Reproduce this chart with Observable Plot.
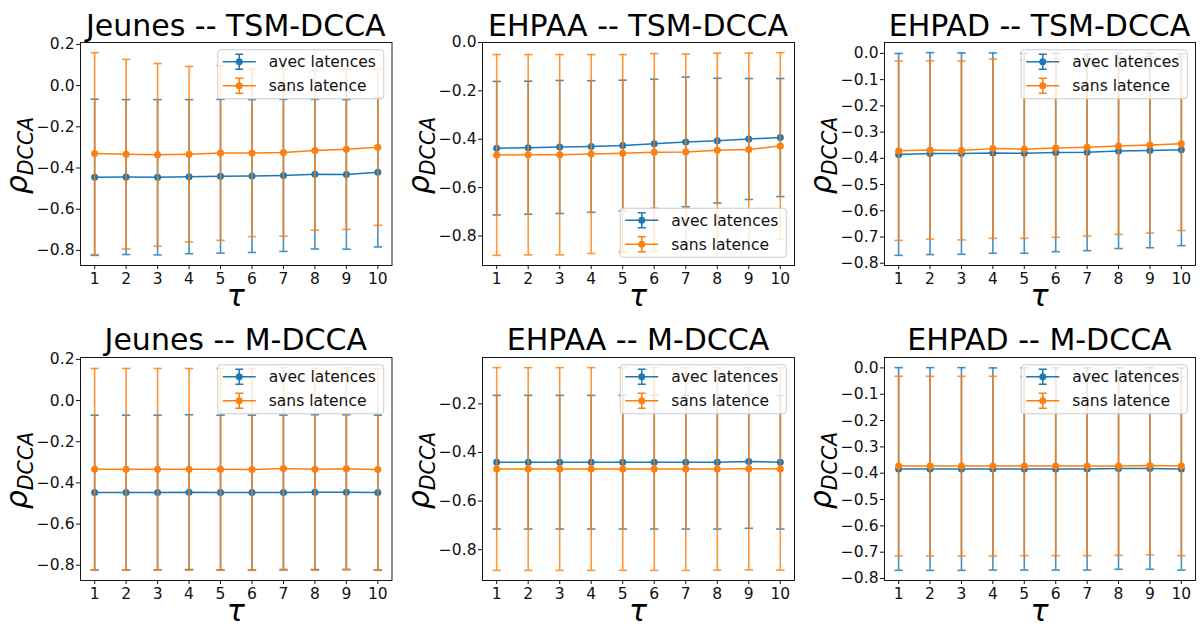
<!DOCTYPE html>
<html><head><meta charset="utf-8">
<script src="https://cdn.jsdelivr.net/npm/d3@7"></script>
<script src="https://cdn.jsdelivr.net/npm/@observablehq/plot@0.6"></script>
<style>
body{margin:0;background:#fff;width:1200px;height:626px;overflow:hidden;font-family:"DejaVu Sans",sans-serif;}
#root{position:relative;width:1200px;height:626px;}
.panel{position:absolute;width:400px;height:313px;}
</style></head><body><div id="root"></div>
<script>
const taus = [1,2,3,4,5,6,7,8,9,10];
const seriesLabels = ["avec latences", "sans latence"];
const panelTitles = ["Jeunes -- TSM-DCCA", "EHPAA -- TSM-DCCA", "EHPAD -- TSM-DCCA",
                     "Jeunes -- M-DCCA", "EHPAA -- M-DCCA", "EHPAD -- M-DCCA"];
const legendPlaces = ["upper right", "lower right", "upper right", "upper right", "upper right", "upper right"];

// Jeunes -- TSM-DCCA
const jeunesTsmAvec    = [-0.445,-0.444,-0.445,-0.442,-0.440,-0.439,-0.436,-0.430,-0.431,-0.421];
const jeunesTsmAvecErr = [0.379,0.376,0.377,0.374,0.373,0.371,0.369,0.363,0.363,0.362];
const jeunesTsmSans    = [-0.330,-0.333,-0.336,-0.333,-0.327,-0.327,-0.325,-0.315,-0.309,-0.299];
const jeunesTsmSansErr = [0.490,0.460,0.443,0.426,0.424,0.406,0.406,0.387,0.389,0.379];
// EHPAA -- TSM-DCCA
const ehpaaTsmAvec    = [-0.437,-0.435,-0.432,-0.430,-0.426,-0.419,-0.411,-0.406,-0.399,-0.393];
const ehpaaTsmAvecErr = [0.276,0.275,0.275,0.272,0.270,0.267,0.268,0.258,0.250,0.244];
const ehpaaTsmSans    = [-0.465,-0.464,-0.464,-0.461,-0.458,-0.454,-0.453,-0.446,-0.442,-0.428];
const ehpaaTsmSansErr = [0.415,0.414,0.414,0.411,0.408,0.408,0.405,0.402,0.398,0.386];
// EHPAD -- TSM-DCCA
const ehpadTsmAvec    = [-0.385,-0.382,-0.382,-0.380,-0.381,-0.378,-0.377,-0.372,-0.370,-0.367];
const ehpadTsmAvecErr = [0.385,0.385,0.384,0.382,0.381,0.378,0.375,0.372,0.371,0.366];
const ehpadTsmSans    = [-0.371,-0.368,-0.370,-0.363,-0.365,-0.361,-0.358,-0.353,-0.349,-0.344];
const ehpadTsmSansErr = [0.342,0.340,0.341,0.342,0.340,0.340,0.338,0.337,0.336,0.331];
// Jeunes -- M-DCCA
const jeunesMAvec    = [-0.447,-0.447,-0.447,-0.445,-0.447,-0.447,-0.447,-0.445,-0.445,-0.447];
const jeunesMAvecErr = [0.376,0.376,0.376,0.376,0.376,0.376,0.376,0.376,0.376,0.376];
const jeunesMSans    = [-0.334,-0.334,-0.334,-0.334,-0.334,-0.335,-0.330,-0.334,-0.331,-0.335];
const jeunesMSansErr = [0.490,0.490,0.490,0.490,0.490,0.490,0.490,0.490,0.490,0.490];
// EHPAA -- M-DCCA
const ehpaaMAvec    = [-0.440,-0.440,-0.440,-0.440,-0.440,-0.440,-0.440,-0.440,-0.437,-0.440];
const ehpaaMAvecErr = [0.275,0.275,0.275,0.275,0.275,0.275,0.275,0.275,0.275,0.275];
const ehpaaMSans    = [-0.468,-0.468,-0.468,-0.468,-0.468,-0.468,-0.468,-0.468,-0.467,-0.468];
const ehpaaMSansErr = [0.417,0.417,0.417,0.417,0.417,0.417,0.417,0.416,0.416,0.416];
// EHPAD -- M-DCCA
const ehpadMAvec    = [-0.384,-0.384,-0.384,-0.384,-0.384,-0.384,-0.384,-0.382,-0.382,-0.384];
const ehpadMAvecErr = [0.385,0.385,0.385,0.384,0.384,0.384,0.384,0.383,0.383,0.384];
const ehpadMSans    = [-0.373,-0.373,-0.373,-0.373,-0.373,-0.373,-0.373,-0.373,-0.371,-0.373];
const ehpadMSansErr = [0.341,0.341,0.341,0.341,0.340,0.340,0.340,0.339,0.339,0.340];

const yTicksJeunes = [-0.8,-0.6,-0.4,-0.2,0.0,0.2];
const yTicksEhpaaTsm = [-0.8,-0.6,-0.4,-0.2,0.0];
const yTicksEhpaaM = [-0.8,-0.6,-0.4,-0.2];
const yTicksEhpad = [-0.8,-0.7,-0.6,-0.5,-0.4,-0.3,-0.2,-0.1,0.0];

const panels = [
  {avec: jeunesTsmAvec, avecErr: jeunesTsmAvecErr, sans: jeunesTsmSans, sansErr: jeunesTsmSansErr, yTicks: yTicksJeunes},
  {avec: ehpaaTsmAvec, avecErr: ehpaaTsmAvecErr, sans: ehpaaTsmSans, sansErr: ehpaaTsmSansErr, yTicks: yTicksEhpaaTsm},
  {avec: ehpadTsmAvec, avecErr: ehpadTsmAvecErr, sans: ehpadTsmSans, sansErr: ehpadTsmSansErr, yTicks: yTicksEhpad},
  {avec: jeunesMAvec, avecErr: jeunesMAvecErr, sans: jeunesMSans, sansErr: jeunesMSansErr, yTicks: yTicksJeunes},
  {avec: ehpaaMAvec, avecErr: ehpaaMAvecErr, sans: ehpaaMSans, sansErr: ehpaaMSansErr, yTicks: yTicksEhpaaM},
  {avec: ehpadMAvec, avecErr: ehpadMAvecErr, sans: ehpadMSans, sansErr: ehpadMSansErr, yTicks: yTicksEhpad}
];

const colors = ["#1f77b4", "#ff7f0e"];
const hbar = { draw(ctx, size) { const w = Math.sqrt(size / Math.PI); ctx.moveTo(-w, 0); ctx.lineTo(w, 0); } };
const root = document.getElementById("root");
const W = 400, H = 313;

panels.forEach((p, i) => {
  const col = i % 3, row = Math.floor(i / 3);
  const mL = [80, 82, 84][col], mR = [8.5, 6, 5][col];
  const mT = [42, 44][row], mB = [48, 46][row];
  const series = [
    taus.map((t, j) => ({tau: t, mean: p.avec[j], lo: p.avec[j] - p.avecErr[j], hi: p.avec[j] + p.avecErr[j]})),
    taus.map((t, j) => ({tau: t, mean: p.sans[j], lo: p.sans[j] - p.sansErr[j], hi: p.sans[j] + p.sansErr[j]}))
  ];
  const all = series.flat();
  const lo = d3.min(all, d => d.lo), hi = d3.max(all, d => d.hi), pad = 0.05 * (hi - lo);
  const marks = [
    Plot.axisX({ticks: taus, tickFormat: d => String(d), tickSize: 4, tickPadding: 3, label: null}),
    Plot.axisY({ticks: p.yTicks, tickFormat: d3.format(".1f"), tickSize: 4, tickPadding: 2, label: null})
  ];
  series.forEach((data, k) => {
    const c = colors[k];
    marks.push(
      Plot.ruleX(data, {x: "tau", y1: "lo", y2: "hi", stroke: c, strokeWidth: 1.6, strokeOpacity: 0.82}),
      Plot.dot(data, {x: "tau", y: "lo", symbol: hbar, r: 4.2, stroke: c, fill: "none", strokeWidth: 1.6, strokeOpacity: 0.82}),
      Plot.dot(data, {x: "tau", y: "hi", symbol: hbar, r: 4.2, stroke: c, fill: "none", strokeWidth: 1.6, strokeOpacity: 0.82}),
      Plot.line(data, {x: "tau", y: "mean", stroke: c, strokeWidth: 1.5}),
      Plot.dot(data, {x: "tau", y: "mean", r: 3.5, fill: c, stroke: "none"})
    );
  });
  marks.push(Plot.frame({stroke: "#000", strokeWidth: 0.9}));
  const chart = Plot.plot({
    width: W, height: H, marginLeft: mL, marginRight: mR, marginTop: mT, marginBottom: mB,
    style: {fontFamily: "DejaVu Sans", fontSize: "15.5px", color: "#111", background: "transparent", overflow: "visible"},
    x: {domain: [0.55, 10.45]},
    y: {domain: [lo - pad, hi + pad]},
    marks
  });
  const svg = d3.select(chart);
  const fx0 = mL, fx1 = W - mR, fy0 = mT, fy1 = H - mB;
  const cx = (fx0 + fx1) / 2, cy = (fy0 + fy1) / 2;
  // title
  svg.append("text").attr("x", cx).attr("y", [36, 37][row]).attr("text-anchor", "middle")
    .attr("font-size", 30).attr("fill", "#000").attr("font-family", "DejaVu Sans").text(panelTitles[i]);
  // x label
  svg.append("text").attr("x", cx).attr("y", [306, 308][row]).attr("text-anchor", "middle")
    .attr("font-size", 30).attr("font-style", "italic").attr("fill", "#000").attr("font-family", "DejaVu Sans").text("τ");
  // y label
  const yl = svg.append("text").attr("transform", `translate(${fx0 - 53},${cy + 2}) rotate(-90)`)
    .attr("text-anchor", "middle").attr("fill", "#000").attr("font-family", "DejaVu Sans").attr("font-style", "italic");
  yl.append("tspan").attr("font-size", 30).text("ρ");
  yl.append("tspan").attr("font-size", 20.5).attr("dy", 6).text("DCCA");
  // legend
  const bw = 166, bh = 49, bp = 7.75;
  const bx = fx1 - bp - bw;
  const by = legendPlaces[i] === "upper right" ? fy0 + bp : fy1 - bp - bh;
  const g = svg.append("g").attr("text-anchor", "start");
  g.append("rect").attr("x", bx).attr("y", by).attr("width", bw).attr("height", bh).attr("rx", 3)
    .attr("fill", "#fff").attr("fill-opacity", 0.8).attr("stroke", "#ccc").attr("stroke-width", 1);
  seriesLabels.forEach((lab, k) => {
    const ly = by + 12 + 24 * k, c = colors[k];
    const hx0 = bx + 5, hx1 = bx + 38, hc = (hx0 + hx1) / 2;
    g.append("line").attr("x1", hx0).attr("x2", hx1).attr("y1", ly).attr("y2", ly).attr("stroke", c).attr("stroke-width", 1.5);
    g.append("line").attr("x1", hc).attr("x2", hc).attr("y1", ly - 7.5).attr("y2", ly + 7.5).attr("stroke", c).attr("stroke-width", 1.5);
    [ly - 7.5, ly + 7.5].forEach(yy => g.append("line").attr("x1", hc - 4).attr("x2", hc + 4).attr("y1", yy).attr("y2", yy).attr("stroke", c).attr("stroke-width", 1.5));
    g.append("circle").attr("cx", hc).attr("cy", ly).attr("r", 3.5).attr("fill", c);
    g.append("text").attr("x", bx + 51).attr("y", ly + 5.5).attr("font-size", 15.5).attr("fill", "#111")
      .attr("text-anchor", "start").attr("font-family", "DejaVu Sans").text(lab);
  });
  const div = document.createElement("div");
  div.className = "panel";
  div.style.left = (col * 400) + "px";
  div.style.top = (row * 313) + "px";
  div.appendChild(chart);
  root.appendChild(div);
});
</script></body></html>
